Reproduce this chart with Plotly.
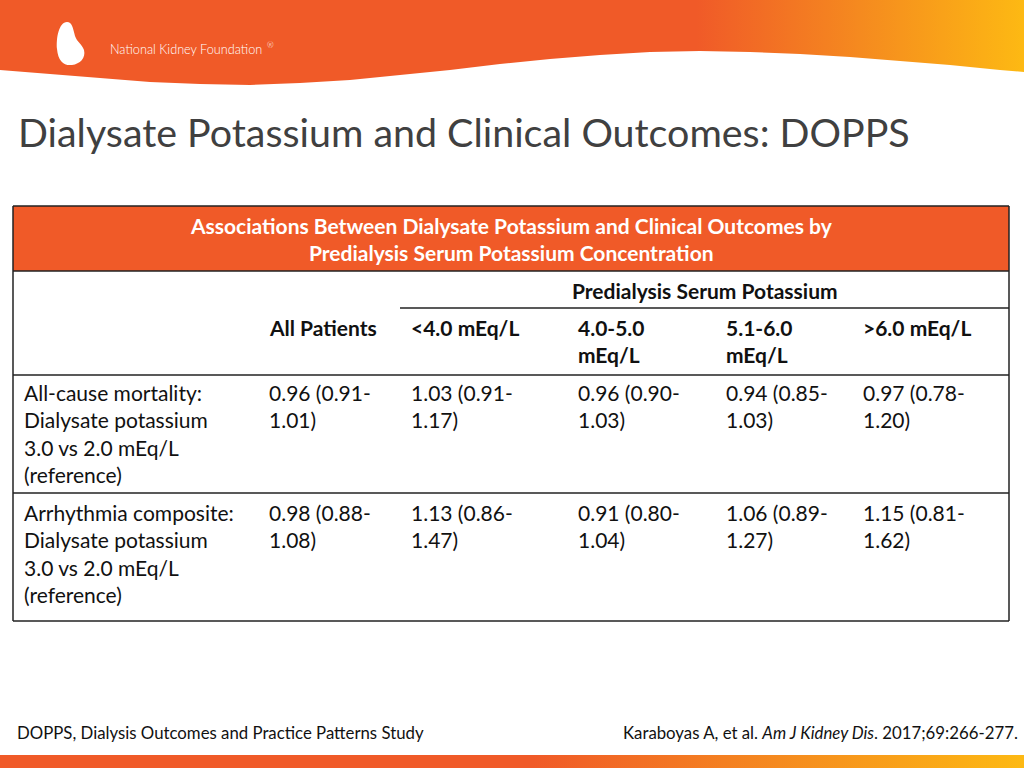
import plotly.graph_objects as go

# ---------------- data ----------------
title = "Dialysate Potassium and Clinical Outcomes: DOPPS"
table_title = ["Associations Between Dialysate Potassium and Clinical Outcomes by",
               "Predialysis Serum Potassium Concentration"]
group_header = "Predialysis Serum Potassium"
col_headers = [["All Patients"], ["<4.0 mEq/L"], ["4.0-5.0", "mEq/L"], ["5.1-6.0", "mEq/L"], [">6.0 mEq/L"]]
row_labels = [["All-cause mortality:", "Dialysate potassium", "3.0 vs 2.0 mEq/L", "(reference)"],
              ["Arrhythmia composite:", "Dialysate potassium", "3.0 vs 2.0 mEq/L", "(reference)"]]
mort_hr = [0.96, 1.03, 0.96, 0.94, 0.97]
mort_lo = [0.91, 0.91, 0.90, 0.85, 0.78]
mort_hi = [1.01, 1.17, 1.03, 1.03, 1.20]
arr_hr = [0.98, 1.13, 0.91, 1.06, 1.15]
arr_lo = [0.88, 0.86, 0.80, 0.89, 0.81]
arr_hi = [1.08, 1.47, 1.04, 1.27, 1.62]
footer_left = "DOPPS, Dialysis Outcomes and Practice Patterns Study"
footer_right = "Karaboyas A, et al. <i>Am J Kidney Dis</i>. 2017;69:266-277."
logo_text = "National Kidney Foundation"
logo_mark = "®"

# ---------------- layout constants ----------------
FONT = "Lato"
ORANGE = "#F05A28"
YELLOW = "#FDB913"
LINE = "#222222"
TXT = "#111111"
FS = 21

fig = go.Figure()

# top wave banner (gradient)
wave_x = [0, 50, 100, 150, 200, 250, 300, 350, 400, 450, 500, 550, 600, 650, 700, 750, 800, 850, 900, 950, 1000, 1024]
wave_y = [70, 74, 78, 82, 84, 85, 83, 80, 75, 70, 64, 59, 55, 52, 51, 52, 54, 57, 61, 65, 70, 72]
bx = [0] + wave_x + [1024, 0]
by = [0] + wave_y + [0, 0]
fig.add_trace(go.Scatter(x=bx, y=by, mode="lines", fill="toself", line=dict(width=0),
                         fillgradient=dict(type="horizontal",
                                           colorscale=[[0, ORANGE], [0.68, ORANGE], [0.84, "#F58A1F"], [1, YELLOW]]),
                         hoverinfo="skip", showlegend=False))
# bottom bar (gradient)
fig.add_trace(go.Scatter(x=[0, 1024, 1024, 0, 0], y=[755, 755, 768, 768, 755], mode="lines", fill="toself",
                         line=dict(width=0),
                         fillgradient=dict(type="horizontal",
                                           colorscale=[[0, ORANGE], [0.52, ORANGE], [0.76, "#F58A1F"], [1, YELLOW]]),
                         hoverinfo="skip", showlegend=False))

shapes = []
# kidney logo
shapes.append(dict(type="path", xref="x", yref="y",
                   path="M 67 22 C 59 22 56 38 57 49 C 58 61 64 66 72 65 C 80 64 86 58 84 50 "
                        "C 82 44 77 42 75 36 C 73 28 72 22 67 22 Z",
                   fillcolor="white", line=dict(width=0)))

# table
L, R = 13, 1009
T, HB = 206, 271
shapes.append(dict(type="rect", xref="x", yref="y", x0=L, x1=R, y0=T, y1=HB, fillcolor=ORANGE,
                   line=dict(width=0), layer="below"))
for y, x0 in [(T, L), (HB, L), (308, 400), (375, L), (493, L), (621, L)]:
    shapes.append(dict(type="line", xref="x", yref="y", x0=x0, x1=R, y0=y, y1=y, line=dict(color=LINE, width=1.5)))
for x in [L, R]:
    shapes.append(dict(type="line", xref="x", yref="y", x0=x, x1=x, y0=T, y1=621, line=dict(color=LINE, width=1.5)))

ann = []


def txt(x, y, s, size=FS, color=TXT, bold=False, xanchor="left", family=FONT, weight=None):
    if xanchor == "left":
        x -= 2
    elif xanchor == "right":
        x += 2
    w = weight if weight is not None else ("bold" if bold else "normal")
    ann.append(dict(x=x, y=y, xref="x", yref="y", text=s, showarrow=False, xanchor=xanchor, yanchor="middle",
                    font=dict(family=family, size=size, color=color, weight=w)))


txt(110, 49, logo_text, size=12.7, color="white", weight=300)
txt(267, 45, logo_mark, size=8, color="white", weight=300)
txt(18, 131, title, size=39.4, color="#404040")

for i, line in enumerate(table_title):
    txt(511, 225.5 + i * 27.3, line, color="white", bold=True, xanchor="center")
txt(705, 290.5, group_header, bold=True, xanchor="center")

col_x = [269, 411, 578, 726, 863]
for cx, hdr in zip(col_x, col_headers):
    for j, line in enumerate(hdr):
        txt(cx, 327.5 + j * 27.3, line, bold=True)

row_y0 = [392.5, 512.5]
for ry, labels in zip(row_y0, row_labels):
    for j, line in enumerate(labels):
        txt(24, ry + j * 27.3, line)

for ry, (hr, lo, hi) in zip(row_y0, [(mort_hr, mort_lo, mort_hi), (arr_hr, arr_lo, arr_hi)]):
    for cx, h, l, u in zip(col_x, hr, lo, hi):
        txt(cx, ry, f"{h:.2f} ({l:.2f}-")
        txt(cx, ry + 27.3, f"{u:.2f})")

txt(17, 732, footer_left, size=16.8)
txt(1018, 732, footer_right, size=16.8, xanchor="right")

fig.update_layout(
    width=1024, height=768, margin=dict(l=0, r=0, t=0, b=0),
    paper_bgcolor="white", plot_bgcolor="white",
    xaxis=dict(range=[0, 1024], visible=False, fixedrange=True),
    yaxis=dict(range=[768, 0], visible=False, fixedrange=True),
    shapes=shapes, annotations=ann, showlegend=False,
)

fig.write_html("out.html", config={"displayModeBar": False},
               post_script="document.body.style.margin='0';")
